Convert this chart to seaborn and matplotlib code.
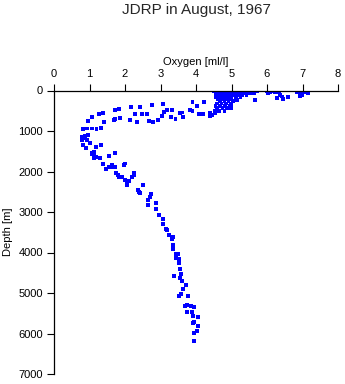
import matplotlib
matplotlib.use("Agg")
import matplotlib.pyplot as plt
import seaborn as sns
import pandas as pd

oxygen = [
    # surface cluster
    4.50, 4.58, 4.65, 4.72, 4.78, 4.85, 4.92, 4.98, 5.05, 5.12, 5.20, 5.30, 5.40, 5.50, 5.60, 5.72,
    4.55, 4.68, 4.80, 4.90, 5.00, 5.10, 5.22, 5.35, 5.45, 5.55, 5.65,
    4.60, 4.75, 4.85, 4.95, 5.05, 5.18, 5.30, 5.42,
    4.55, 4.70, 4.80, 4.90, 5.00, 5.12, 5.25,
    4.62, 4.75, 4.88, 4.98, 5.15, 5.67,
    4.68, 4.80, 4.92, 5.05,
    4.60, 4.72, 4.85, 4.98,
    4.55, 4.68, 4.82, 4.95,
    4.60, 4.75, 4.88, 4.99, 4.53, 4.65, 4.80, 4.55, 4.45, 4.40,
    # surface, high oxygen
    6.00, 6.08, 6.15, 6.22, 6.34, 6.37, 6.42, 6.28, 6.45, 6.59, 6.03,
    6.85, 6.93, 7.04, 7.15, 6.99, 6.93, 6.97,
    # upper band
    3.07, 3.90, 4.23, 4.03, 3.83, 4.08, 4.20, 4.40, 3.20, 3.33, 3.10, 3.05, 3.30, 3.63, 3.90,
    2.76, 2.42, 2.17, 1.83, 1.72, 1.38, 1.27, 1.07, 0.96,
    2.28, 2.48, 2.62, 1.86, 1.69, 1.72, 2.14, 2.34, 2.68, 2.79, 2.93, 1.41, 3.18, 3.42, 3.55, 3.62,
    # oxygen minimum
    1.32, 1.20, 1.07, 0.93, 0.82, 0.87, 0.79, 0.79, 0.93, 1.01, 0.82, 0.90, 1.18, 1.32, 0.85, 0.95,
    1.07, 1.13, 1.72, 1.13, 1.13, 1.07, 1.30, 1.55, 1.20,
    1.38, 1.46, 1.55, 1.63, 1.72, 1.63, 1.97, 2.00,
    1.75, 1.80, 1.83, 1.91, 2.00, 2.06, 2.06, 2.11, 2.20, 2.25, 2.25,
    # deep water
    2.37, 2.42, 2.40, 2.50, 2.73, 2.70, 2.65, 2.65, 2.87, 2.87, 2.96, 3.07, 3.07, 3.15, 3.24,
    3.18, 3.32, 3.35, 3.35, 3.35, 3.44, 3.50, 3.44, 3.52, 3.52, 3.55, 3.58, 3.38, 3.55, 3.61,
    3.72, 3.63, 3.58, 3.52, 3.77, 3.69, 3.75, 3.86, 3.94, 3.75, 3.89, 3.92, 4.06, 3.92, 3.94,
    4.06, 4.03, 3.94, 3.94,
]
depth = [
    20, 20, 20, 20, 20, 20, 20, 20, 20, 20, 20, 20, 20, 20, 20, 20,
    60, 60, 60, 60, 60, 60, 60, 60, 60, 60, 60,
    110, 110, 110, 110, 110, 110, 110, 110,
    160, 160, 160, 160, 160, 160, 160,
    210, 210, 210, 210, 230, 230,
    260, 260, 260, 260,
    320, 320, 320, 330,
    380, 380, 390, 380,
    440, 440, 440, 430, 500, 500, 500, 560, 600, 640,
    20, 40, 20, 30, 50, 110, 150, 190, 210, 160, 60,
    50, 40, 30, 70, 110, 140, 80,
    330, 290, 290, 380, 480, 580, 580, 560, 480, 480, 530, 630, 660, 660, 500,
    360, 410, 410, 460, 480, 560, 580, 660, 750,
    580, 580, 580, 680, 730, 700, 730, 780, 750, 780, 730, 780, 480, 700, 560, 540,
    930, 950, 940, 940, 950, 1120, 1150, 1220, 1220, 1300, 1350, 1420, 1400, 1350, 1180, 1100,
    1550, 1520, 1550, 1600, 1670, 1570, 1670, 1620, 1650,
    1820, 1940, 1890, 1890, 1890, 1840, 1840, 1800,
    2040, 2090, 2140, 2140, 2210, 2290, 2330, 2240, 2140, 2040, 2090,
    2460, 2530, 2500, 2330, 2560, 2630, 2700, 2830, 2780, 2930, 3080, 3170, 3300, 3420, 3570,
    3450, 3670, 3620, 3820, 3920, 4040, 4040, 4130, 4160, 4260, 4410, 4530, 4580, 4630, 4710,
    4800, 4900, 5030, 5080, 5080, 5320, 5300, 5320, 5350, 5470, 5470, 5570, 5600, 5740, 5720,
    5820, 5940, 5990, 6190,
]

x_ticks = [0, 1, 2, 3, 4, 5, 6, 7, 8]
y_ticks = [0, 1000, 2000, 3000, 4000, 5000, 6000, 7000]

title = "JDRP in August, 1967"
x_label = "Oxygen [ml/l]"
y_label = "Depth [m]"

df = pd.DataFrame({"oxygen": oxygen, "depth": depth})

sns.set_theme(style="ticks")
plt.rcParams["font.family"] = ["Liberation Sans", "DejaVu Sans"]

fig = plt.figure(figsize=(3.45, 3.84), dpi=100)
ax = fig.add_axes([54 / 345, 1 - 374 / 384, (338 - 54) / 345, (374 - 90.5) / 384])

sns.scatterplot(data=df, x="oxygen", y="depth", ax=ax, marker="s", s=7,
                color="#0000ff", linewidth=0, edgecolor="none")

ax.set_xlim(0, 8)
ax.set_ylim(7000, 0)
ax.set_xticks(x_ticks)
ax.set_yticks(y_ticks)
ax.xaxis.tick_top()
ax.xaxis.set_label_position("top")
ax.set_xlabel(x_label, fontsize=8, labelpad=3, color="black")
ax.set_ylabel(y_label, fontsize=8, labelpad=4, color="black")
ax.tick_params(axis="both", labelsize=8, length=5, width=0.8, pad=3, colors="black",
               direction="out")
for side in ["right", "bottom"]:
    ax.spines[side].set_visible(False)
for side in ["top", "left"]:
    ax.spines[side].set_linewidth(0.9)
    ax.spines[side].set_color("black")

fig.text((54 + 338) / 2 / 345, 1 - 3 / 384, title, ha="center", va="top", fontsize=11)

fig.savefig("out.png", dpi=100)
